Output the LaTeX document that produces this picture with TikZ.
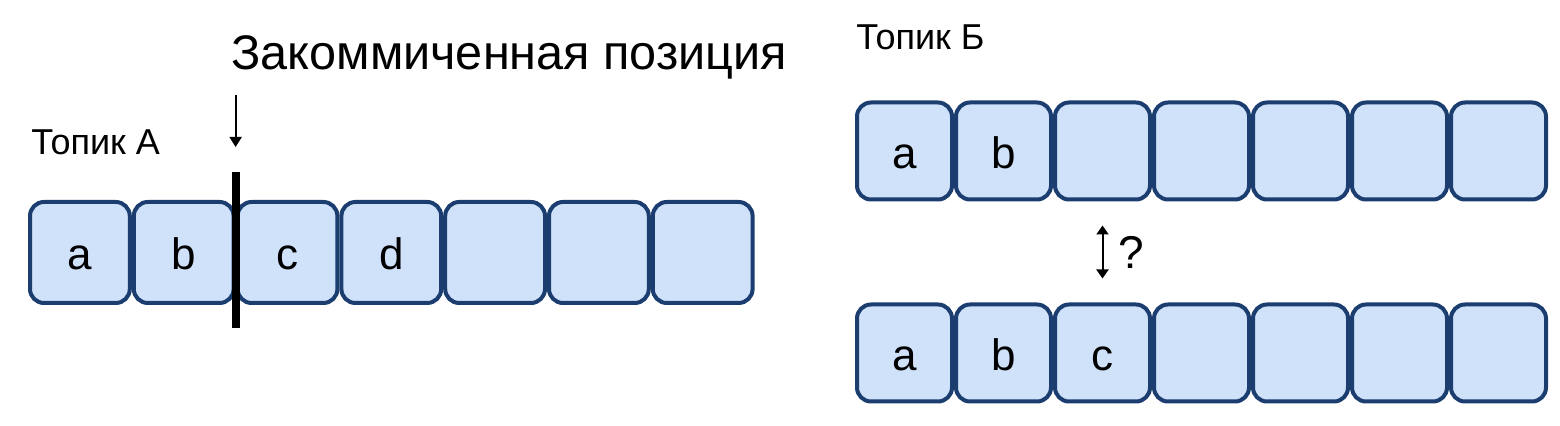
\documentclass[tikz,border=0pt]{standalone}
\usepackage{fontspec}
\setmainfont{Liberation Sans}
\usetikzlibrary{positioning,arrows.meta}
\definecolor{cellfill}{RGB}{207,226,250}
\definecolor{celldraw}{RGB}{27,61,112}
\begin{document}
\begin{tikzpicture}[x=0.5pt,y=-0.5pt,node distance=0pt]
	\useasboundingbox (0,0) rectangle (1560,426);
	\tikzstyle{cell}=[draw=celldraw,fill=cellfill,line width=2pt,rounded corners=7pt,text height=17.5pt,text depth=0pt,font=\fontsize{22}{26}\selectfont]
	\tikzstyle{cellA}=[cell,minimum width=49.9pt,minimum height=50.5pt]
	\tikzstyle{cellB}=[cell,minimum width=47.5pt,minimum height=48.5pt]
	\tikzstyle{topic}=[anchor=base west,inner sep=0pt,font=\fontsize{18}{21}\selectfont]
	\tikzstyle{pointer}=[line width=1pt,-{Triangle[width=6pt,length=5pt]}]
	% topic A
	\node[topic] (topicA) at (31,155) {Топик А};
	\node[cellA] (A1) at (79.9,252.5) {a};
	\node[cellA,right=of A1] (A2) {b};
	\node[cellA,right=of A2] (A3) {c};
	\node[cellA,right=of A3] (A4) {d};
	\node[cellA,right=of A4] (A5) {};
	\node[cellA,right=of A5] (A6) {};
	\node[cellA,right=of A6] (A7) {};
	% committed offset
	\coordinate[above=14pt of A2.north east] (barTop);
	\coordinate[below=11.5pt of A2.south east] (barBot);
	\draw[line width=4pt] (barTop) -- (barBot);
	\coordinate[above=52.5pt of A2.north east] (pinTail);
	\coordinate[above=26.5pt of A2.north east] (pin);
	\draw[pointer] (pinTail) -- (pin);
	\node[topic,font=\fontsize{24.3}{29}\selectfont] (commit) at (231,70) {Закоммиченная позиция};
	% topic B
	\node[topic] (topicB) at (856,50) {Топик Б};
	\node[cellB] (B1) at (904.5,151) {a};
	\node[cellB,right=of B1] (B2) {b};
	\node[cellB,right=of B2] (B3) {};
	\node[cellB,right=of B3] (B4) {};
	\node[cellB,right=of B4] (B5) {};
	\node[cellB,right=of B5] (B6) {};
	\node[cellB,right=of B6] (B7) {};
	\node[cellB] (C1) at (904.5,353) {a};
	\node[cellB,right=of C1] (C2) {b};
	\node[cellB,right=of C2] (C3) {c};
	\node[cellB,right=of C3] (C4) {};
	\node[cellB,right=of C4] (C5) {};
	\node[cellB,right=of C5] (C6) {};
	\node[cellB,right=of C6] (C7) {};
	\draw[line width=1pt,{Triangle[width=6pt,length=4.5pt]}-{Triangle[width=6pt,length=4.5pt]},shorten <=12pt,shorten >=12pt] (B3) -- node[right=4pt,font=\fontsize{23}{27}\selectfont] (ask) {?} (C3);
\end{tikzpicture}
\end{document}
